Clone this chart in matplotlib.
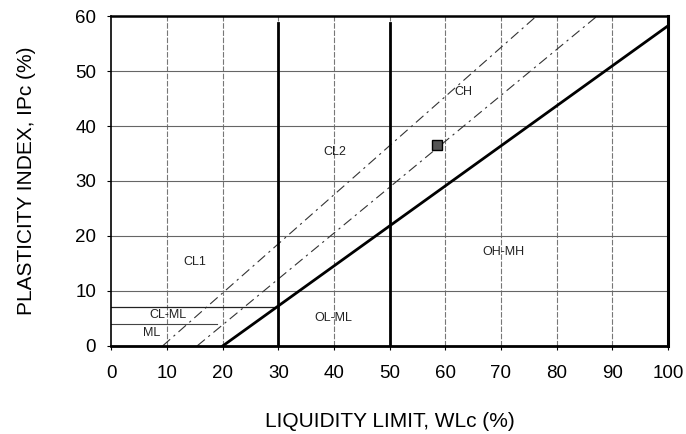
import matplotlib
matplotlib.use("Agg")
import matplotlib.pyplot as plt

plt.rcParams['font.family'] = ['Liberation Sans', 'DejaVu Sans']

# chart limits / ticks
x_ticks = [0, 10, 20, 30, 40, 50, 60, 70, 80, 90, 100]
y_ticks = [0, 10, 20, 30, 40, 50, 60]

# boundary lines (LL, PI)
a_line_ll = [20, 100]
a_line_pi = [0, 58.2]
upper_dash_ll = [9.2, 76.4]
upper_dash_pi = [0, 60]
lower_dash_ll = [15.4, 87.3]
lower_dash_pi = [0, 60]
vert_ll = [30, 50]
vert_pi = [0, 58.7]
clml_top_ll = [0, 29.6]
clml_top_pi = [7, 7]
clml_bot_ll = [0, 19.0]
clml_bot_pi = [4, 4]

# sample point
sample_ll = [58.6]
sample_pi = [36.5]

# zone labels
zone_names = ["CL1", "CL2", "CH", "OH-MH", "OL-ML", "CL-ML", "ML"]
zone_ll = [15.0, 40.2, 63.2, 70.4, 39.8, 10.2, 7.2]
zone_pi = [15.3, 35.3, 46.2, 17.1, 5.1, 5.6, 2.4]

fig = plt.figure(figsize=(6.86, 4.34), dpi=100)
ax = fig.add_axes([0.1625, 0.203, 0.811, 0.760])

# grid
for x in x_ticks[1:-1]:
    ax.plot([x, x], [0, 60], color='#777777', lw=0.8, ls=(0, (5, 1.5)), zorder=1)
for y in y_ticks[1:-1]:
    ax.plot([0, 100], [y, y], color='#666666', lw=0.8, zorder=1)

ax.plot(a_line_ll, a_line_pi, color='black', lw=2.0, zorder=3)
ax.plot(upper_dash_ll, upper_dash_pi, color='#333333', lw=0.8, ls=(0, (9, 4, 2, 4)), zorder=2)
ax.plot(lower_dash_ll, lower_dash_pi, color='#333333', lw=0.8, ls=(0, (9, 4, 2, 4)), zorder=2)
for v in vert_ll:
    ax.plot([v, v], vert_pi, color='black', lw=2.0, zorder=3)
ax.plot(clml_top_ll, clml_top_pi, color='#222222', lw=0.9, zorder=2)
ax.plot(clml_bot_ll, clml_bot_pi, color='#444444', lw=0.8, zorder=2)

ax.plot(sample_ll, sample_pi, marker='s', ms=7, color='#555555', mec='black', mew=1.0,
        ls='none', zorder=4)

for name, xx, yy in zip(zone_names, zone_ll, zone_pi):
    ax.text(xx, yy, name, fontsize=9, color='#222222', ha='center', va='center', zorder=5)

ax.set_xlim(0, 100)
ax.set_ylim(0, 60)
ax.set_xticks(x_ticks)
ax.set_yticks(y_ticks)
ax.tick_params(direction='out', length=3, width=0.8, labelsize=13.5)
ax.tick_params(axis='x', pad=11)
ax.tick_params(axis='y', pad=8)

ax.spines['left'].set_linewidth(1.2)
ax.spines['right'].set_linewidth(2.2)
ax.spines['top'].set_linewidth(1.8)
ax.spines['bottom'].set_linewidth(2.0)

ax.set_xlabel("LIQUIDITY LIMIT, WLc (%)", fontsize=15, labelpad=21)
ax.set_ylabel("PLASTICITY INDEX, IPc (%)", fontsize=15, labelpad=28)

fig.savefig("out.png", dpi=100)
